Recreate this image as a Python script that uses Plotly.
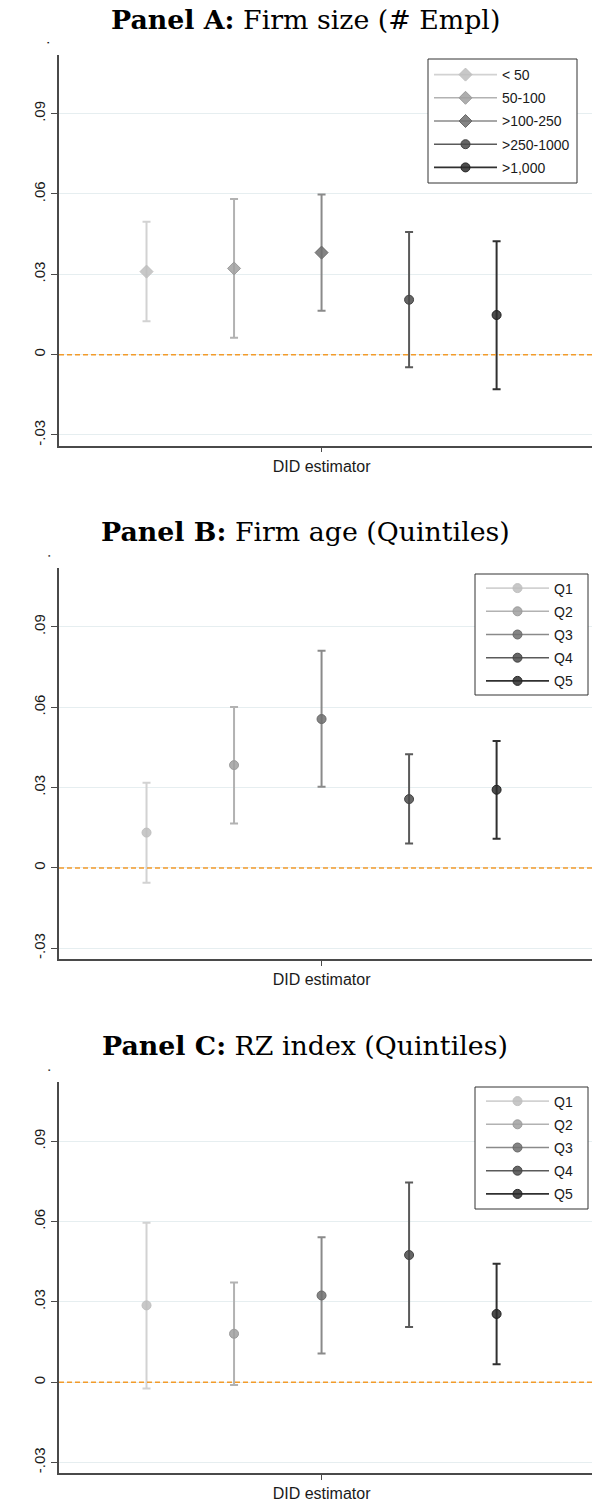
import plotly.graph_objects as go

# ---------------- data ----------------
size_groups = ["< 50", "50-100", ">100-250", ">250-1000", ">1,000"]
size_coef = [0.0310, 0.0322, 0.0381, 0.0205, 0.0148]
size_lo = [0.0125, 0.0063, 0.0164, -0.0047, -0.0129]
size_hi = [0.0496, 0.0581, 0.0598, 0.0458, 0.0423]

age_groups = ["Q1", "Q2", "Q3", "Q4", "Q5"]
age_coef = [0.0132, 0.0384, 0.0556, 0.0257, 0.0292]
age_lo = [-0.0055, 0.0166, 0.0303, 0.0091, 0.0109]
age_hi = [0.0318, 0.0601, 0.0811, 0.0425, 0.0474]

rz_groups = ["Q1", "Q2", "Q3", "Q4", "Q5"]
rz_coef = [0.0287, 0.0181, 0.0324, 0.0475, 0.0255]
rz_lo = [-0.0023, -0.0010, 0.0107, 0.0206, 0.0067]
rz_hi = [0.0596, 0.0372, 0.0541, 0.0746, 0.0442]

y_ticks = [-0.03, 0, 0.03, 0.06, 0.09]
y_tick_text = ["-.03", "0", ".03", ".06", ".09"]
x_label = "DID estimator"

titles = [
    "<b>Panel A:</b> Firm size (# Empl)",
    "<b>Panel B:</b> Firm age (Quintiles)",
    "<b>Panel C:</b> RZ index (Quintiles)",
]

# ---------------- styling ----------------
W, H = 592, 1503
SANS = "Liberation Sans, Arial, sans-serif"
SERIF = "DejaVu Serif, serif"

bar_colors = ["#d2d2d2", "#b2b2b2", "#8a8a8a", "#5a5a5a", "#303030"]
fill_colors = ["rgba(190,190,190,0.85)", "rgba(160,160,160,0.85)",
               "rgba(110,110,110,0.85)", "rgba(75,75,75,0.85)",
               "rgba(45,45,45,0.85)"]
edge_colors = ["#c0c0c0", "#9c9c9c", "#6a6a6a", "#444444", "#222222"]
AXIS = "#4a4a4a"
GRID = "#e6eef0"
ORANGE = "#f29b2b"

Y_RANGE = [-0.034, 0.112]
X_RANGE = [0, 6.09]
PLOT_LEFT = 59
PLOT_RIGHT = 592
# bottom pixel of each plot area, height of plot area
bottoms = [445.7, 959.0, 1473.3]
PLOT_H = 391.0
# legend frames (left, top, right, bottom) in pixels
legend_frames = [(428, 59, 577, 183), (475, 574, 588, 695), (475, 1087, 588, 1209)]
legend_pad = [(1, 0), (6, -1.5), (6, -1.5)]
title_y = [19, 531, 1045]

panels = [
    (size_groups, size_coef, size_lo, size_hi, ["diamond"] * 3 + ["circle"] * 2),
    (age_groups, age_coef, age_lo, age_hi, ["circle"] * 5),
    (rz_groups, rz_coef, rz_lo, rz_hi, ["circle"] * 5),
]

fig = go.Figure()
layout = dict(
    width=W, height=H,
    margin=dict(l=0, r=0, t=0, b=0),
    paper_bgcolor="white", plot_bgcolor="white",
    showlegend=True,
    font=dict(family=SANS, color="#1a1a1a"),
)
shapes = []
annotations = []

for p, (groups, coef, lo, hi, symbols) in enumerate(panels):
    k = "" if p == 0 else str(p + 1)
    xa, ya = "x" + k, "y" + k
    leg = "legend" + k
    for i, g in enumerate(groups):
        fig.add_trace(go.Scatter(
            x=[i + 1], y=[coef[i]],
            mode="lines+markers",
            name=g,
            legend=leg,
            legendgroup=f"{p}-{i}",
            xaxis=xa, yaxis=ya,
            line=dict(color=bar_colors[i], width=1.6),
            marker=dict(symbol=symbols[i], size=10 if symbols[i] == "diamond" else 9,
                        color=fill_colors[i],
                        line=dict(color=edge_colors[i], width=1)),
            error_y=dict(type="data", symmetric=False,
                         array=[hi[i] - coef[i]], arrayminus=[coef[i] - lo[i]],
                         color=bar_colors[i], thickness=2, width=4),
            hoverinfo="skip",
        ))

    top = bottoms[p] - PLOT_H
    ydom = [1 - bottoms[p] / H, 1 - top / H]
    layout["xaxis" + k] = dict(
        domain=[PLOT_LEFT / W, PLOT_RIGHT / W], range=X_RANGE,
        anchor=ya, showgrid=False, zeroline=False,
        showline=True, linecolor=AXIS, linewidth=1.5,
        tickmode="array", tickvals=[3], ticktext=[x_label],
        ticks="outside", ticklen=5, tickcolor=AXIS, tickwidth=1.2,
        tickfont=dict(family=SANS, size=16, color="#1a1a1a"),
        fixedrange=True,
    )
    layout["yaxis" + k] = dict(
        domain=ydom, range=Y_RANGE, anchor=xa,
        showgrid=True, gridcolor=GRID, gridwidth=1, zeroline=False,
        showline=True, linecolor=AXIS, linewidth=1.5,
        tickmode="array", tickvals=y_ticks, ticktext=y_tick_text,
        tickangle=-90, ticks="outside", ticklen=6, tickcolor=AXIS, tickwidth=1.2,
        tickfont=dict(family=SANS, size=15, color="#1a1a1a"),
        fixedrange=True,
    )
    # dashed reference line at zero
    shapes.append(dict(type="line", xref=xa + " domain", yref=ya,
                       x0=0, x1=1, y0=0, y1=0,
                       line=dict(color=ORANGE, width=1.5, dash="5px,3px"),
                       layer="above"))
    # legend frame
    fl, ft, fr, fb = legend_frames[p]
    shapes.append(dict(type="rect", xref="paper", yref="paper",
                       x0=fl / W, x1=fr / W, y0=1 - fb / H, y1=1 - ft / H,
                       fillcolor="white", line=dict(color="#333333", width=1),
                       layer="above"))
    dx, dy = legend_pad[p]
    layout[leg] = dict(
        x=(fl + dx) / W, y=1 - (ft + dy) / H, xanchor="left", yanchor="top",
        xref="paper", yref="paper",
        bgcolor="rgba(0,0,0,0)", borderwidth=0,
        font=dict(family=SANS, size=14, color="#1a1a1a"),
        itemwidth=63, tracegroupgap=2, traceorder="grouped",
        itemclick=False, itemdoubleclick=False,
    )
    annotations.append(dict(
        text=titles[p], xref="paper", yref="paper",
        x=305 / W, y=1 - title_y[p] / H, xanchor="center", yanchor="middle",
        showarrow=False, font=dict(family=SERIF, size=26.8, color="black"),
    ))
    # clipped top tick label (only its decimal point shows)
    annotations.append(dict(
        text=".", xref="paper", yref="paper",
        x=44 / W, y=1 - (top - 12) / H, xanchor="center", yanchor="middle",
        showarrow=False, textangle=-90,
        font=dict(family=SANS, size=15, color="#1a1a1a"),
    ))

layout["shapes"] = shapes
layout["annotations"] = annotations
fig.update_layout(**layout)
fig.write_html("out.html")
